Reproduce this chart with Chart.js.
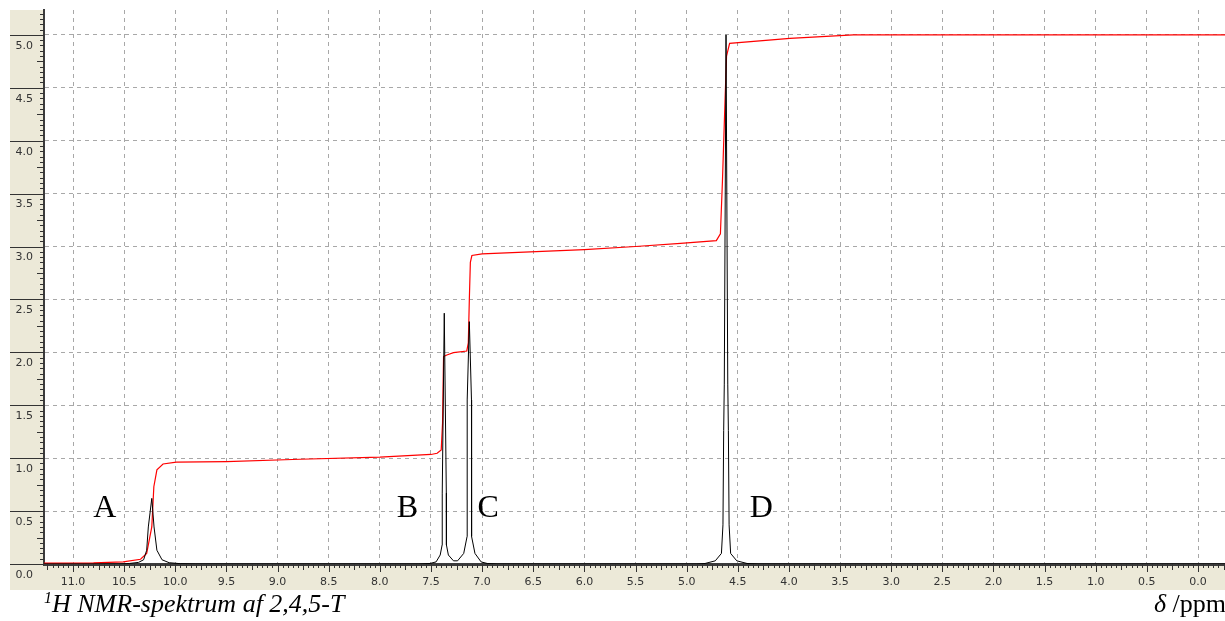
<!DOCTYPE html>
<html>
<head>
<meta charset="utf-8">
<script src="https://cdn.jsdelivr.net/npm/chart.js"></script>
<style>
  html, body { margin: 0; padding: 0; background: #fff; overflow: hidden; }
  #wrap { position: relative; width: 1225px; height: 621px; }
  #cap { position: absolute; left: 44px; top: 591px; font: italic 26px "Liberation Serif", serif; line-height: 26px; white-space: nowrap; }
  #cap sup { font-size: 16px; vertical-align: 9px; line-height: 0; }
  #unit { position: absolute; right: -1px; top: 591px; font: 26px "Liberation Serif", serif; line-height: 26px; white-space: nowrap; }
</style>
</head>
<body>
<div id="wrap">
  <canvas id="nmr" width="1225" height="621"></canvas>
  <div id="cap"><sup>1</sup>H NMR-spektrum af 2,4,5-T</div>
  <div id="unit"><i>δ</i> /ppm</div>
</div>
<script>
// spectrum trace (ppm, intensity)
var specPpm = [11.30, 10.55, 10.45, 10.36, 10.31, 10.28, 10.264, 10.23, 10.208, 10.18, 10.13, 10.06, 9.95, 9.80,
  7.62, 7.51, 7.45, 7.41, 7.391, 7.390, 7.370, 7.350, 7.349, 7.33, 7.28, 7.24, 7.18, 7.147, 7.146, 7.125, 7.104, 7.103, 7.07, 7.01, 6.95, 6.85,
  4.90, 4.82, 4.72, 4.66, 4.645, 4.638, 4.632, 4.615, 4.598, 4.592, 4.585, 4.57, 4.51, 4.41, 4.30, -0.30];
var specInt = [0, 0, 0.005, 0.015, 0.04, 0.13, 0.35, 0.62, 0.35, 0.13, 0.04, 0.012, 0.003, 0,
  0, 0.005, 0.02, 0.085, 0.18, 0.67, 2.37, 0.67, 0.18, 0.085, 0.03, 0.03, 0.10, 0.26, 1.55, 2.29, 1.55, 0.26, 0.10, 0.02, 0.005, 0,
  0, 0.005, 0.03, 0.10, 0.37, 1.26, 1.70, 5.0, 1.70, 1.26, 0.37, 0.10, 0.03, 0.005, 0, 0];

// integral curve (red)
var integPpm = [11.30, 10.80, 10.51, 10.34, 10.28, 10.23, 10.21, 10.18, 10.12, 9.99, 9.50, 8.78, 8.00, 7.50, 7.44, 7.40,
  7.387, 7.377, 7.345, 7.28, 7.15, 7.135, 7.125, 7.115, 7.10, 7.00, 6.00, 5.50, 5.06, 4.71, 4.67, 4.65, 4.625, 4.61, 4.58,
  3.99, 3.37, -0.30];
var integVal = [0.008, 0.01, 0.02, 0.045, 0.10, 0.35, 0.73, 0.89, 0.945, 0.962, 0.968, 0.99, 1.01, 1.035, 1.046, 1.077,
  1.33, 1.96, 1.975, 1.997, 2.013, 2.09, 2.5, 2.85, 2.915, 2.93, 2.97, 3.0, 3.03, 3.056, 3.12, 3.62, 4.37, 4.80, 4.92,
  4.966, 5.0, 5.0];

// peak letters
var peakNames = ['A', 'B', 'C', 'D'];
var peakNamePpm = [10.69, 7.73, 6.94, 4.27];
var peakNameY = [0.44, 0.44, 0.44, 0.44];

var xMin = -0.264, xMax = 11.284;
var yMin = 0, yMax = 5.235;

function pts(xs, ys) {
  return xs.map(function(x, i) { return {x: x, y: ys[i]}; });
}

var beige = '#ece9d8';
var tickFont = {family: 'DejaVu Sans', size: 11};

var panel = {
  id: 'panel',
  beforeDraw: function(chart) {
    var ctx = chart.ctx, a = chart.chartArea;
    ctx.save();
    ctx.fillStyle = beige;
    ctx.fillRect(10, 10, a.left - 10, a.bottom - 10 + 26);
    ctx.fillRect(10, a.bottom, chart.width - 10, 26);
    ctx.restore();
  },
  afterDraw: function(chart) {
    var ctx = chart.ctx, a = chart.chartArea;
    var xs = chart.scales.x, ys = chart.scales.y;
    ctx.save();
    ctx.strokeStyle = '#333';
    ctx.lineWidth = 1;
    ctx.beginPath();
    // y ticks every 0.05
    for (var i = 0; i * 0.05 <= yMax; i++) {
      var y = Math.round(ys.getPixelForValue(i * 0.05)) + 0.5;
      var len = i % 10 === 0 ? a.left - 10 : (i % 5 === 0 ? 7 : 4);
      ctx.moveTo(a.left - len, y);
      ctx.lineTo(a.left, y);
    }
    // x ticks every 0.05
    for (var j = -5; j * 0.05 <= xMax; j++) {
      if (j * 0.05 < xMin) continue;
      var x = Math.round(xs.getPixelForValue(j * 0.05)) + 0.5;
      var l = j % 10 === 0 ? 8 : (j % 5 === 0 ? 6 : 4);
      ctx.moveTo(x, a.bottom);
      ctx.lineTo(x, a.bottom + l);
    }
    ctx.stroke();

    ctx.fillStyle = '#000';
    ctx.font = '32px "Liberation Serif", serif';
    ctx.textAlign = 'center';
    ctx.textBaseline = 'alphabetic';
    peakNames.forEach(function(n, k) {
      ctx.fillText(n, xs.getPixelForValue(peakNamePpm[k]), ys.getPixelForValue(peakNameY[k]));
    });
    ctx.restore();
  }
};

new Chart(document.getElementById('nmr'), {
  type: 'line',
  data: {
    datasets: [{
      data: pts(specPpm, specInt),
      borderColor: '#000',
      borderWidth: 1,
      pointRadius: 0,
      tension: 0
    }, {
      data: pts(integPpm, integVal),
      borderColor: '#ff0000',
      borderWidth: 1.2,
      pointRadius: 0,
      tension: 0
    }]
  },
  options: {
    responsive: false,
    animation: false,
    events: [],
    layout: {padding: {left: 10, top: 10, right: 0, bottom: 31}},
    plugins: {legend: {display: false}, tooltip: {enabled: false}},
    scales: {
      x: {
        type: 'linear',
        reverse: true,
        min: xMin,
        max: xMax,
        afterFit: function(s) { s.height = 26; s.paddingLeft = 0; s.paddingRight = 0; },
        ticks: {
          stepSize: 0.5, includeBounds: false, padding: 12, color: '#333', font: tickFont,
          maxRotation: 0, autoSkip: false,
          callback: function(v) { return Math.abs(v).toFixed(1); }
        },
        grid: {color: '#a8a8a8', drawTicks: false},
        border: {color: '#3c3c3c', width: 3, dash: [4, 4]}
      },
      y: {
        min: yMin,
        max: yMax,
        afterFit: function(s) { s.width = 34; s.paddingTop = 0; s.paddingBottom = 0; },
        ticks: {
          stepSize: 0.5, includeBounds: false, padding: 11, labelOffset: 11, color: '#333', font: tickFont,
          callback: function(v) { return Math.abs(v).toFixed(1); }
        },
        grid: {color: '#a8a8a8', drawTicks: false},
        border: {color: '#3c3c3c', width: 2, dash: [4, 4]}
      }
    }
  },
  plugins: [panel]
});
</script>
</body>
</html>
